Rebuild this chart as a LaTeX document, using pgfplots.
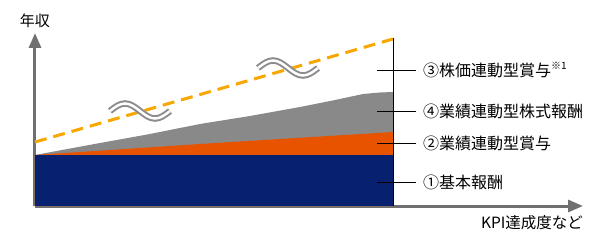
\documentclass[border=0pt]{standalone}
\usepackage{fontspec}
\setmainfont{Noto Sans CJK JP}
\usepackage{pgfplots}
\pgfplotsset{compat=1.18}
\usetikzlibrary{arrows.meta}
\definecolor{navy}{RGB}{7,32,111}
\definecolor{orng}{RGB}{232,83,0}
\definecolor{grayfill}{RGB}{137,137,137}
\definecolor{dashor}{RGB}{248,166,0}
\definecolor{axgray}{RGB}{112,112,112}
\definecolor{wavegray}{RGB}{140,140,140}
\begin{document}
\begin{tikzpicture}
\begin{axis}[
  scale only axis, width=548bp, height=173bp,
  xmin=0, xmax=548, ymin=0, ymax=173,
  axis lines=left, xtick=\empty, ytick=\empty,
  axis line style={draw=axgray, line width=3bp},
  x axis line style={-{Triangle[length=15bp,width=12bp]}},
  y axis line style={-{Triangle[length=15bp,width=12bp]}},
  clip=false,
]
% invisible bounding frame (604 x 246)
\path (axis cs:-35,-40) rectangle (axis cs:569,206);
% stacked areas
\addplot[fill=grayfill, draw=none] coordinates {(0,51) (65,63) (115,72) (165,82) (215,90) (265,99) (300,106) (328,112) (345,113.5) (358,114)} -- (axis cs:358,0) -- (axis cs:0,0) -- cycle;
\addplot[fill=orng, draw=none] coordinates {(0,51) (165,62) (358,74)} -- (axis cs:358,0) -- (axis cs:0,0) -- cycle;
\addplot[fill=navy, draw=none] coordinates {(0,51) (358,51)} -- (axis cs:358,0) -- (axis cs:0,0) -- cycle;
% dashed line
\addplot[dashor, line width=3bp, dash pattern=on 12bp off 7bp] coordinates {(0,64) (358,167)};
% vertical black line
\addplot[black, line width=1bp] coordinates {(358,0) (358,168)};
% leader lines
\addplot[black, line width=0.9bp] coordinates {(342,136) (381,136)};
\addplot[black, line width=0.9bp] coordinates {(342,95) (381,95)};
\addplot[black, line width=0.9bp] coordinates {(342,63) (381,63)};
\addplot[black, line width=0.9bp] coordinates {(342,24) (381,24)};
% wave symbols
\draw[wavegray, line width=2bp, double=white, double distance=2.5bp]
  ([xshift=-30bp]axis cs:105,95) sin ++(15bp,7.5bp) cos ++(15bp,-7.5bp) sin ++(15bp,-7.5bp) cos ++(15bp,7.5bp);
\draw[wavegray, line width=2bp, double=white, double distance=2.5bp]
  ([xshift=-30bp]axis cs:253,138) sin ++(15bp,7.5bp) cos ++(15bp,-7.5bp) sin ++(15bp,-7.5bp) cos ++(15bp,7.5bp);
% labels
\node[anchor=west, font=\fontsize{16bp}{18bp}\selectfont, inner sep=0pt] at (axis cs:388,136) {③株価連動型賞与\raisebox{0.45em}{\fontsize{10bp}{11bp}\selectfont ※1}};
\node[anchor=west, font=\fontsize{16bp}{18bp}\selectfont, inner sep=0pt] at (axis cs:388,95) {④業績連動型株式報酬};
\node[anchor=west, font=\fontsize{16bp}{18bp}\selectfont, inner sep=0pt] at (axis cs:388,63) {②業績連動型賞与};
\node[anchor=west, font=\fontsize{16bp}{18bp}\selectfont, inner sep=0pt] at (axis cs:388,24) {①基本報酬};
\node[font=\fontsize{15bp}{17bp}\selectfont, inner sep=0pt] at (axis cs:0,185) {年収};
\node[font=\fontsize{15.5bp}{17bp}\selectfont, inner sep=0pt] at (axis cs:497,-17) {KPI達成度など};
\end{axis}
\end{tikzpicture}
\end{document}
